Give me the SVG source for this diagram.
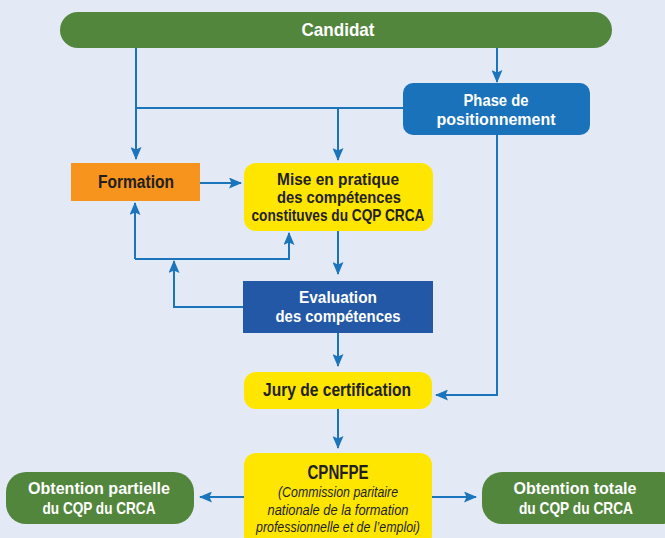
<svg xmlns="http://www.w3.org/2000/svg" width="665" height="538" viewBox="0 0 665 538">
<defs>
<marker id="ah" markerWidth="13" markerHeight="11" refX="12" refY="5.5" orient="auto" markerUnits="userSpaceOnUse">
<path d="M0,0 L13,5.5 L0,11 L2.5,5.5 Z" fill="#1b75bc"/>
</marker>
</defs>
<style>
.t{font-family:"Liberation Sans",Arial,sans-serif;font-weight:bold;text-anchor:middle;font-size:18px;}
.m{font-size:16.5px;}
.w{fill:#ffffff;}
.d{fill:#231f20;}
.i{font-family:"Liberation Sans",Arial,sans-serif;font-style:italic;text-anchor:middle;fill:#231f20;font-size:14.5px;}
.c{fill:none;stroke:#1b75bc;stroke-width:2;}
</style>
<rect width="665" height="538" fill="#e4eaf5"/>
<g id="connectors">
<path class="c" d="M136,47 V159" marker-end="url(#ah)"/>
<path class="c" d="M136,108 H403"/>
<path class="c" d="M338,108 V160" marker-end="url(#ah)"/>
<path class="c" d="M497,47 V82" marker-end="url(#ah)"/>
<path class="c" d="M497,135 V395 H436" marker-end="url(#ah)"/>
<path class="c" d="M200,183 H241" marker-end="url(#ah)"/>
<path class="c" d="M135,259 V203" marker-end="url(#ah)"/>
<path class="c" d="M135,259 H289 V233" marker-end="url(#ah)"/>
<path class="c" d="M243,307 H174 V261" marker-end="url(#ah)"/>
<path class="c" d="M338,231 V274" marker-end="url(#ah)"/>
<path class="c" d="M338,333 V366" marker-end="url(#ah)"/>
<path class="c" d="M338,409 V448" marker-end="url(#ah)"/>
<path class="c" d="M432,497 H476" marker-end="url(#ah)"/>
<path class="c" d="M244,497 H200" marker-end="url(#ah)"/>
</g>
<g id="candidat">
<rect x="60" y="12" width="552" height="36" rx="18" fill="#52863c"/>
<text class="t w" x="338" y="36" style="font-size:19px" textLength="73" lengthAdjust="spacingAndGlyphs">Candidat</text>
</g>
<g id="phase">
<rect x="403" y="83" width="187" height="52" rx="10" fill="#1a73ba"/>
<text class="t w m" x="496" y="106" textLength="65" lengthAdjust="spacingAndGlyphs">Phase de</text>
<text class="t w m" x="496" y="125" textLength="119" lengthAdjust="spacingAndGlyphs">positionnement</text>
</g>
<g id="formation">
<rect x="71" y="163" width="129" height="38" fill="#f7941d"/>
<text class="t d" x="136" y="188" textLength="76" lengthAdjust="spacingAndGlyphs">Formation</text>
</g>
<g id="mise">
<rect x="244" y="163" width="189" height="68" rx="12" fill="#ffe600"/>
<text class="t d m" x="338" y="185" textLength="122" lengthAdjust="spacingAndGlyphs">Mise en pratique</text>
<text class="t d m" x="339" y="203" textLength="124" lengthAdjust="spacingAndGlyphs">des compétences</text>
<text class="t d m" x="338" y="221" textLength="173" lengthAdjust="spacingAndGlyphs">constituves du CQP CRCA</text>
</g>
<g id="evaluation">
<rect x="243" y="281" width="190" height="52" fill="#2358a6"/>
<text class="t w m" x="338" y="303" textLength="78" lengthAdjust="spacingAndGlyphs">Evaluation</text>
<text class="t w m" x="338" y="322" textLength="125" lengthAdjust="spacingAndGlyphs">des compétences</text>
</g>
<g id="jury">
<rect x="244" y="372" width="188" height="37" rx="12" fill="#ffe600"/>
<text class="t d" x="337" y="396" textLength="148" lengthAdjust="spacingAndGlyphs">Jury de certification</text>
</g>
<g id="cpnfpe">
<rect x="244" y="453" width="188" height="95" rx="12" fill="#ffe600"/>
<text class="t d" x="338" y="479" style="font-size:21px" textLength="61" lengthAdjust="spacingAndGlyphs">CPNFPE</text>
<text class="i" x="338" y="497" textLength="120" lengthAdjust="spacingAndGlyphs">(Commission paritaire</text>
<text class="i" x="338" y="515" textLength="141" lengthAdjust="spacingAndGlyphs">nationale de la formation</text>
<text class="i" x="338" y="532" textLength="164" lengthAdjust="spacingAndGlyphs">professionnelle et de l’emploi)</text>
</g>
<g id="partielle">
<rect x="6" y="472" width="188" height="52" rx="20" fill="#52863c"/>
<text class="t w m" x="99" y="494" textLength="142" lengthAdjust="spacingAndGlyphs">Obtention partielle</text>
<text class="t w m" x="99" y="514" textLength="113" lengthAdjust="spacingAndGlyphs">du CQP du CRCA</text>
</g>
<g id="totale">
<rect x="482" y="472" width="200" height="52" rx="20" fill="#52863c"/>
<text class="t w m" x="575" y="494" textLength="123" lengthAdjust="spacingAndGlyphs">Obtention totale</text>
<text class="t w m" x="576" y="514" textLength="114" lengthAdjust="spacingAndGlyphs">du CQP du CRCA</text>
</g>
</svg>
